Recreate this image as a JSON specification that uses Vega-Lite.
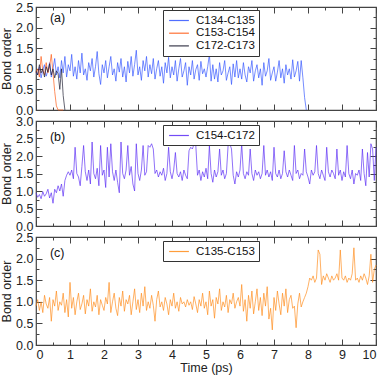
{
  "$schema": "https://vega.github.io/schema/vega-lite/v6.json",
  "padding": {"left": 0, "top": 0, "right": 0, "bottom": 0},
  "spacing": 11,
  "bounds": "flush",
  "config": {
    "view": {"stroke": "#444", "strokeWidth": 1.2},
    "axis": {"domain": false, "grid": false, "tickColor": "#444", "tickWidth": 1, "labelFont": "Liberation Sans", "labelFontSize": 12.5, "labelColor": "#222", "titleFont": "Liberation Sans", "titleFontSize": 12.5, "titleFontWeight": "normal", "titleColor": "#222"},
    "legend": {"orient": "none", "legendX": 127, "title": null, "strokeColor": "#333", "fillColor": "white", "padding": 4, "symbolType": "M-1.8,0H1.8", "symbolSize": 121, "symbolStrokeWidth": 1.2, "symbolOffset": 5.5, "labelFont": "Liberation Sans", "labelFontSize": 11.5, "labelOffset": 10.5, "rowPadding": 0.7, "labelColor": "#111"},
    "text": {"font": "Liberation Sans", "fontSize": 12.5, "color": "#111"}
  },
  "datasets": {
    "d": [
      {"t":0,"a":0.92,"r":0.9,"k":0.95,"b":0.95,"c":0.9},
      {"t":0.05,"a":0.85,"r":1.0,"k":0.85,"b":0.82,"c":1.05},
      {"t":0.1,"a":1.05,"r":0.8,"k":1.1,"b":0.9,"c":0.8},
      {"t":0.15,"a":0.78,"r":1.3,"k":0.9,"b":0.78,"c":1.0},
      {"t":0.2,"a":0.98,"r":0.95,"k":1.0,"b":0.98,"c":0.75},
      {"t":0.25,"a":1.1,"r":0.85,"k":0.8,"b":0.85,"c":1.15},
      {"t":0.3,"a":0.82,"r":1.15,"k":1.05,"b":0.92,"c":0.95},
      {"t":0.35,"a":0.95,"r":0.9,"k":0.92,"b":1.05,"c":0.85},
      {"t":0.4,"a":1.15,"r":1.05,"k":1.12,"b":0.8,"c":1.1},
      {"t":0.45,"a":0.8,"r":1.35,"k":0.85,"b":0.95,"c":0.55},
      {"t":0.5,"a":1.0,"r":0.9,"k":1.0,"b":0.65,"c":1.05},
      {"t":0.55,"a":1.25,"r":0.45,"k":0.78,"b":1.05,"c":0.9},
      {"t":0.6,"a":0.85,"r":0.1,"k":0.95,"b":0.95,"c":1.25},
      {"t":0.65,"a":1.05,"r":0.0,"k":0.88,"b":1.15,"c":0.8},
      {"t":0.7,"a":0.78,"r":0.0,"k":0.5,"b":1.0,"c":1.0},
      {"t":0.75,"a":1.2,"r":0.0,"k":1.0,"b":1.2,"c":0.92},
      {"t":0.8,"a":0.9,"r":0.0,"k":0.35,"b":0.85,"c":1.2},
      {"t":0.85,"a":1.3,"k":0.0,"b":1.3,"c":0.75},
      {"t":0.9,"a":0.8,"b":1.45,"c":1.05},
      {"t":0.95,"a":1.1,"b":1.55,"c":0.65},
      {"t":1.0,"a":0.95,"b":1.45,"c":1.45},
      {"t":1.05,"a":1.35,"b":1.6,"c":0.85},
      {"t":1.1,"a":0.82,"b":1.35,"c":1.1},
      {"t":1.15,"a":1.05,"b":2.25,"c":0.7},
      {"t":1.2,"a":0.75,"b":1.5,"c":1.0},
      {"t":1.25,"a":1.2,"b":1.4,"c":1.2},
      {"t":1.3,"a":0.9,"b":1.15,"c":0.82},
      {"t":1.35,"a":1.38,"b":1.7,"c":0.95},
      {"t":1.4,"a":0.85,"b":2.3,"c":1.15},
      {"t":1.45,"a":1.0,"b":1.55,"c":0.72},
      {"t":1.5,"a":0.72,"b":1.3,"c":1.05},
      {"t":1.55,"a":1.15,"b":1.6,"c":0.9},
      {"t":1.6,"a":0.95,"b":1.2,"c":1.3},
      {"t":1.65,"a":1.25,"b":2.4,"c":0.78},
      {"t":1.7,"a":0.8,"b":1.5,"c":1.0},
      {"t":1.75,"a":1.05,"b":1.35,"c":0.88},
      {"t":1.8,"a":1.42,"b":1.65,"c":1.15},
      {"t":1.85,"a":0.88,"b":1.15,"c":0.7},
      {"t":1.9,"a":0.62,"b":2.3,"c":1.05},
      {"t":1.95,"a":1.1,"b":1.45,"c":0.92},
      {"t":2.0,"a":0.9,"b":1.6,"c":0.8},
      {"t":2.05,"a":1.2,"b":1.1,"c":1.1},
      {"t":2.1,"a":0.78,"b":2.25,"c":0.95},
      {"t":2.15,"a":1.05,"b":1.4,"c":1.45},
      {"t":2.2,"a":1.3,"b":2.35,"c":0.75},
      {"t":2.25,"a":0.85,"b":1.55,"c":1.0},
      {"t":2.3,"a":1.0,"b":1.3,"c":1.2},
      {"t":2.35,"a":0.7,"b":1.6,"c":0.85},
      {"t":2.4,"a":1.15,"b":1.25,"c":0.68},
      {"t":2.45,"a":0.92,"b":0.95,"c":1.1},
      {"t":2.5,"a":1.25,"b":2.4,"c":0.9},
      {"t":2.55,"a":0.8,"b":1.5,"c":1.25},
      {"t":2.6,"a":1.05,"b":1.35,"c":0.78},
      {"t":2.65,"a":0.68,"b":1.6,"c":1.05},
      {"t":2.7,"a":1.18,"b":2.3,"c":0.95},
      {"t":2.75,"a":0.9,"b":1.45,"c":1.15},
      {"t":2.8,"a":1.3,"b":1.7,"c":0.7},
      {"t":2.85,"a":0.82,"b":1.2,"c":1.0},
      {"t":2.9,"a":1.1,"b":1.0,"c":1.3},
      {"t":2.95,"a":1.45,"b":2.35,"c":0.82},
      {"t":3.0,"a":0.85,"b":1.5,"c":1.05},
      {"t":3.05,"a":1.05,"b":1.3,"c":0.75},
      {"t":3.1,"a":0.72,"b":1.6,"c":1.2},
      {"t":3.15,"a":1.2,"b":2.3,"c":0.9},
      {"t":3.2,"a":0.95,"b":1.45,"c":1.35},
      {"t":3.25,"a":1.3,"b":1.55,"c":0.8},
      {"t":3.3,"a":0.8,"b":2.3,"c":1.0},
      {"t":3.35,"a":1.1,"b":2.25,"c":0.85},
      {"t":3.4,"a":0.88,"b":2.35,"c":1.15},
      {"t":3.45,"a":1.25,"b":2.2,"c":0.92},
      {"t":3.5,"a":0.75,"b":1.5,"c":0.55},
      {"t":3.55,"a":1.0,"b":1.6,"c":1.05},
      {"t":3.6,"a":1.2,"b":1.4,"c":1.25},
      {"t":3.65,"a":0.82,"b":1.55,"c":0.88},
      {"t":3.7,"a":1.05,"b":1.45,"c":1.0},
      {"t":3.75,"a":0.65,"b":1.65,"c":0.8},
      {"t":3.8,"a":1.15,"b":1.3,"c":1.1},
      {"t":3.85,"a":0.9,"b":1.5,"c":0.95},
      {"t":3.9,"a":1.28,"b":2.25,"c":0.7},
      {"t":3.95,"a":0.78,"b":1.55,"c":1.05},
      {"t":4.0,"a":1.05,"b":1.35,"c":0.9},
      {"t":4.05,"a":0.85,"b":1.6,"c":1.2},
      {"t":4.1,"a":1.2,"b":2.1,"c":0.85},
      {"t":4.15,"a":0.7,"b":1.5,"c":1.0},
      {"t":4.2,"a":1.0,"b":1.4,"c":0.78},
      {"t":4.25,"a":1.25,"b":1.55,"c":1.1},
      {"t":4.3,"a":0.8,"b":1.3,"c":0.95},
      {"t":4.35,"a":0.95,"b":1.6,"c":1.0},
      {"t":4.4,"a":1.15,"b":1.45,"c":0.88},
      {"t":4.45,"a":0.6,"b":1.35,"c":1.05},
      {"t":4.5,"a":1.05,"b":2.15,"c":0.92},
      {"t":4.55,"a":0.85,"b":2.25,"c":1.0},
      {"t":4.6,"a":1.2,"b":2.2,"c":0.82},
      {"t":4.65,"a":0.75,"b":2.35,"c":1.12},
      {"t":4.7,"a":0.98,"b":2.3,"c":0.95},
      {"t":4.75,"a":1.1,"b":1.45,"c":0.75},
      {"t":4.8,"a":0.72,"b":1.6,"c":1.05},
      {"t":4.85,"a":1.18,"b":1.3,"c":0.9},
      {"t":4.9,"a":0.88,"b":1.55,"c":1.2},
      {"t":4.95,"a":1.0,"b":1.4,"c":0.85},
      {"t":5.0,"a":0.8,"b":1.65,"c":1.0},
      {"t":5.05,"a":1.05,"b":1.35,"c":0.7},
      {"t":5.1,"a":1.35,"b":2.3,"c":1.25},
      {"t":5.15,"a":0.7,"b":1.5,"c":0.9},
      {"t":5.2,"a":1.1,"b":1.25,"c":1.05},
      {"t":5.25,"a":0.75,"b":1.6,"c":0.62},
      {"t":5.3,"a":1.0,"b":1.4,"c":1.1},
      {"t":5.35,"a":0.68,"b":1.55,"c":0.95},
      {"t":5.4,"a":1.15,"b":2.2,"c":1.3},
      {"t":5.45,"a":0.85,"b":1.45,"c":0.8},
      {"t":5.5,"a":0.95,"b":1.6,"c":1.0},
      {"t":5.55,"a":1.2,"b":1.35,"c":0.88},
      {"t":5.6,"a":0.72,"b":1.5,"c":1.15},
      {"t":5.65,"a":0.9,"b":2.3,"c":0.75},
      {"t":5.7,"a":1.05,"b":2.35,"c":1.05},
      {"t":5.75,"a":0.62,"b":2.2,"c":0.95},
      {"t":5.8,"a":1.12,"b":1.45,"c":1.2},
      {"t":5.85,"a":0.8,"b":1.2,"c":0.85},
      {"t":5.9,"a":1.2,"b":1.55,"c":1.0},
      {"t":5.95,"a":0.78,"b":1.4,"c":1.1},
      {"t":6.0,"a":1.0,"b":1.6,"c":0.9},
      {"t":6.05,"a":0.75,"b":2.35,"c":1.4},
      {"t":6.1,"a":1.15,"b":1.5,"c":0.78},
      {"t":6.15,"a":0.85,"b":1.35,"c":1.05},
      {"t":6.2,"a":0.68,"b":1.55,"c":0.55},
      {"t":6.25,"a":1.05,"b":1.45,"c":1.15},
      {"t":6.3,"a":0.9,"b":2.2,"c":0.85},
      {"t":6.35,"a":1.2,"b":1.5,"c":1.25},
      {"t":6.4,"a":0.7,"b":1.3,"c":0.72},
      {"t":6.45,"a":0.95,"b":1.6,"c":1.0},
      {"t":6.5,"a":1.1,"b":1.45,"c":1.3},
      {"t":6.55,"a":0.78,"b":1.55,"c":0.8},
      {"t":6.6,"a":1.0,"b":1.35,"c":1.1},
      {"t":6.65,"a":0.6,"b":1.5,"c":0.68},
      {"t":6.7,"a":1.15,"b":2.3,"c":1.2},
      {"t":6.75,"a":0.82,"b":1.45,"c":0.9},
      {"t":6.8,"a":0.95,"b":1.6,"c":1.35},
      {"t":6.85,"a":1.25,"b":1.4,"c":0.6},
      {"t":6.9,"a":0.72,"b":1.55,"c":0.85},
      {"t":6.95,"a":0.9,"b":1.3,"c":0.35},
      {"t":7.0,"a":1.05,"b":2.25,"c":1.1},
      {"t":7.05,"a":0.7,"b":1.5,"c":0.8},
      {"t":7.1,"a":0.92,"b":1.4,"c":1.25},
      {"t":7.15,"a":1.2,"b":1.6,"c":0.95},
      {"t":7.2,"a":0.78,"b":1.35,"c":0.7},
      {"t":7.25,"a":1.0,"b":1.5,"c":1.2},
      {"t":7.3,"a":0.65,"b":2.15,"c":0.9},
      {"t":7.35,"a":1.1,"b":1.55,"c":1.3},
      {"t":7.4,"a":0.85,"b":1.4,"c":0.75},
      {"t":7.45,"a":1.0,"b":1.6,"c":1.05},
      {"t":7.5,"a":0.75,"b":1.45,"c":1.15},
      {"t":7.55,"a":1.22,"b":1.3,"c":0.85},
      {"t":7.6,"a":0.8,"b":2.3,"c":0.9},
      {"t":7.65,"a":0.95,"b":1.5,"c":0.4},
      {"t":7.7,"a":1.18,"b":1.6,"c":0.95},
      {"t":7.75,"a":0.7,"b":1.35,"c":1.2},
      {"t":7.8,"a":1.2,"b":1.5,"c":0.88},
      {"t":7.85,"a":0.78,"b":1.45,"c":1.0},
      {"t":7.9,"a":0.3,"b":2.2,"c":1.1},
      {"t":7.95,"a":0.0,"b":1.55,"c":1.2},
      {"t":8.0,"b":1.4,"c":1.35},
      {"t":8.05,"b":1.2,"c":1.55},
      {"t":8.1,"b":1.6,"c":1.5},
      {"t":8.15,"b":1.45,"c":1.6},
      {"t":8.2,"b":1.55,"c":1.45},
      {"t":8.25,"b":2.3,"c":1.55},
      {"t":8.3,"b":1.5,"c":2.2},
      {"t":8.35,"b":1.35,"c":2.1},
      {"t":8.4,"b":1.6,"c":1.4},
      {"t":8.45,"b":1.45,"c":1.6},
      {"t":8.5,"b":1.3,"c":1.5},
      {"t":8.55,"b":2.25,"c":1.65},
      {"t":8.6,"b":1.55,"c":1.55},
      {"t":8.65,"b":1.4,"c":1.45},
      {"t":8.7,"b":1.6,"c":1.6},
      {"t":8.75,"b":1.5,"c":1.5},
      {"t":8.8,"b":1.35,"c":1.55},
      {"t":8.85,"b":2.2,"c":1.65},
      {"t":8.9,"b":1.45,"c":1.5},
      {"t":8.95,"b":1.6,"c":2.2},
      {"t":9.0,"b":1.3,"c":1.55},
      {"t":9.05,"b":1.55,"c":1.5},
      {"t":9.1,"b":1.4,"c":1.6},
      {"t":9.15,"b":2.3,"c":1.45},
      {"t":9.2,"b":1.5,"c":1.55},
      {"t":9.25,"b":1.35,"c":1.5},
      {"t":9.3,"b":1.6,"c":1.65},
      {"t":9.35,"b":1.2,"c":2.25},
      {"t":9.4,"b":1.5,"c":1.5},
      {"t":9.45,"b":1.45,"c":1.55},
      {"t":9.5,"b":1.6,"c":1.45},
      {"t":9.55,"b":1.3,"c":1.6},
      {"t":9.6,"b":2.2,"c":1.5},
      {"t":9.65,"b":1.5,"c":1.65},
      {"t":9.7,"b":1.15,"c":1.55},
      {"t":9.75,"b":2.1,"c":1.4},
      {"t":9.8,"b":1.4,"c":1.6},
      {"t":9.85,"b":2.35,"c":2.1},
      {"t":9.9,"b":2.2,"c":1.45},
      {"t":9.95,"b":1.3,"c":1.75},
      {"t":10.0,"b":2.25,"c":1.85}
    ]
  },
  "resolve": {"scale": {"color": "independent"}, "legend": {"color": "independent"}},
  "vconcat": [
    {
      "width": 340, "height": 103,
      "layer": [
        {
          "data": {"name": "d"},
          "transform": [{"fold": ["a", "r", "k"], "as": ["s", "v"]}, {"filter": "isValid(datum.v)"}],
          "mark": {"type": "line", "strokeWidth": 0.8, "opacity": 0.85},
          "encoding": {
            "x": {"field": "t", "type": "quantitative", "scale": {"domain": [0, 10], "nice": false}, "axis": {"orient": "bottom", "values": [0,0.5,1,1.5,2,2.5,3,3.5,4,4.5,5,5.5,6,6.5,7,7.5,8,8.5,9,9.5,10], "tickSize": {"condition": {"test": "datum.value % 1 === 0", "value": -6}, "value": -3}, "labels": false, "title": null}},
            "y": {"field": "v", "type": "quantitative", "scale": {"domain": [0, 2.5], "nice": false}, "axis": {"orient": "left", "values": [0,0.25,0.5,0.75,1,1.25,1.5,1.75,2,2.25,2.5], "tickSize": {"condition": {"test": "(datum.value*2) % 1 === 0", "value": -6}, "value": -3}, "labelExpr": "(datum.value*2) % 1 === 0 ? datum.label : ''", "format": ".1f", "labelPadding": 9, "title": "Bond order", "titlePadding": 2}},
            "color": {"field": "s", "type": "nominal", "sort": null, "scale": {"domain": ["a", "r", "k"], "range": ["#3355ff", "#ff5a14", "#1a1a2e"]}, "legend": {"legendY": 3, "labelExpr": "datum.label == 'a' ? 'C134-C135' : datum.label == 'r' ? 'C153-C154' : 'C172-C173'"}}
          }
        },
        {
          "data": {"name": "d"},
          "mark": {"type": "line", "opacity": 0},
          "encoding": {
            "x": {"field": "t", "type": "quantitative", "scale": {"domain": [0, 10], "nice": false}, "axis": {"orient": "top", "values": [0,0.5,1,1.5,2,2.5,3,3.5,4,4.5,5,5.5,6,6.5,7,7.5,8,8.5,9,9.5,10], "tickSize": {"condition": {"test": "datum.value % 1 === 0", "value": -6}, "value": -3}, "labels": false, "title": null}},
            "y": {"field": "a", "type": "quantitative", "scale": {"domain": [0, 2.5], "nice": false}, "axis": {"orient": "right", "values": [0,0.25,0.5,0.75,1,1.25,1.5,1.75,2,2.25,2.5], "tickSize": {"condition": {"test": "(datum.value*2) % 1 === 0", "value": -6}, "value": -3}, "labels": false, "title": null}}
          }
        },
        {
          "data": {"values": [{}]},
          "mark": {"type": "text", "align": "left", "baseline": "middle"},
          "encoding": {
            "x": {"datum": 0.41, "type": "quantitative", "scale": {"domain": [0, 10], "nice": false}, "axis": null},
            "y": {"datum": 2.24, "type": "quantitative", "scale": {"domain": [0, 2.5], "nice": false}, "axis": null},
            "text": {"value": "(a)"}
          }
        }
      ],
      "resolve": {"axis": {"x": "independent", "y": "independent"}}
    },
    {
      "width": 340, "height": 105,
      "data": {"name": "d"},
      "layer": [
        {
          "mark": {"type": "line", "strokeWidth": 0.8, "opacity": 0.85},
          "encoding": {
            "x": {"field": "t", "type": "quantitative", "scale": {"domain": [0, 10], "nice": false}, "axis": {"orient": "bottom", "values": [0,0.5,1,1.5,2,2.5,3,3.5,4,4.5,5,5.5,6,6.5,7,7.5,8,8.5,9,9.5,10], "tickSize": {"condition": {"test": "datum.value % 1 === 0", "value": -6}, "value": -3}, "labels": false, "title": null}},
            "y": {"field": "b", "type": "quantitative", "scale": {"domain": [0, 3], "nice": false}, "axis": {"orient": "left", "values": [0,0.25,0.5,0.75,1,1.25,1.5,1.75,2,2.25,2.5,2.75,3], "tickSize": {"condition": {"test": "(datum.value*2) % 1 === 0", "value": -6}, "value": -3}, "labelExpr": "(datum.value*2) % 1 === 0 ? datum.label : ''", "format": ".1f", "labelPadding": 9, "title": "Bond order", "titlePadding": 2}},
            "color": {"datum": "C154-C172", "type": "nominal", "scale": {"range": ["#5b2cf5"]}, "legend": {"legendY": 4}}
          }
        },
        {
          "mark": {"type": "line", "opacity": 0},
          "encoding": {
            "x": {"field": "t", "type": "quantitative", "scale": {"domain": [0, 10], "nice": false}, "axis": {"orient": "top", "values": [0,0.5,1,1.5,2,2.5,3,3.5,4,4.5,5,5.5,6,6.5,7,7.5,8,8.5,9,9.5,10], "tickSize": {"condition": {"test": "datum.value % 1 === 0", "value": -6}, "value": -3}, "labels": false, "title": null}},
            "y": {"field": "b", "type": "quantitative", "scale": {"domain": [0, 3], "nice": false}, "axis": {"orient": "right", "values": [0,0.25,0.5,0.75,1,1.25,1.5,1.75,2,2.25,2.5,2.75,3], "tickSize": {"condition": {"test": "(datum.value*2) % 1 === 0", "value": -6}, "value": -3}, "labels": false, "title": null}}
          }
        },
        {
          "data": {"values": [{}]},
          "mark": {"type": "text", "align": "left", "baseline": "middle"},
          "encoding": {
            "x": {"datum": 0.41, "type": "quantitative", "scale": {"domain": [0, 10], "nice": false}, "axis": null},
            "y": {"datum": 2.53, "type": "quantitative", "scale": {"domain": [0, 3], "nice": false}, "axis": null},
            "text": {"value": "(b)"}
          }
        }
      ],
      "resolve": {"axis": {"x": "independent", "y": "independent"}}
    },
    {
      "width": 340, "height": 108,
      "data": {"name": "d"},
      "layer": [
        {
          "mark": {"type": "line", "strokeWidth": 0.8, "opacity": 0.85},
          "encoding": {
            "x": {"field": "t", "type": "quantitative", "scale": {"domain": [0, 10], "nice": false}, "axis": {"orient": "bottom", "values": [0,0.5,1,1.5,2,2.5,3,3.5,4,4.5,5,5.5,6,6.5,7,7.5,8,8.5,9,9.5,10], "tickSize": {"condition": {"test": "datum.value % 1 === 0", "value": -6}, "value": -3}, "format": ".0f", "labelExpr": "datum.value % 1 === 0 ? datum.label : ''", "labelPadding": 9, "title": "Time (ps)", "titlePadding": 1}},
            "y": {"field": "c", "type": "quantitative", "scale": {"domain": [0, 2.5], "nice": false}, "axis": {"orient": "left", "values": [0,0.25,0.5,0.75,1,1.25,1.5,1.75,2,2.25,2.5], "tickSize": {"condition": {"test": "(datum.value*2) % 1 === 0", "value": -6}, "value": -3}, "labelExpr": "(datum.value*2) % 1 === 0 ? datum.label : ''", "format": ".1f", "labelPadding": 9, "title": "Bond order", "titlePadding": 2}},
            "color": {"datum": "C135-C153", "type": "nominal", "scale": {"range": ["#ff8c1a"]}, "legend": {"legendY": 4}}
          }
        },
        {
          "mark": {"type": "line", "opacity": 0},
          "encoding": {
            "x": {"field": "t", "type": "quantitative", "scale": {"domain": [0, 10], "nice": false}, "axis": {"orient": "top", "values": [0,0.5,1,1.5,2,2.5,3,3.5,4,4.5,5,5.5,6,6.5,7,7.5,8,8.5,9,9.5,10], "tickSize": {"condition": {"test": "datum.value % 1 === 0", "value": -6}, "value": -3}, "labels": false, "title": null}},
            "y": {"field": "c", "type": "quantitative", "scale": {"domain": [0, 2.5], "nice": false}, "axis": {"orient": "right", "values": [0,0.25,0.5,0.75,1,1.25,1.5,1.75,2,2.25,2.5], "tickSize": {"condition": {"test": "(datum.value*2) % 1 === 0", "value": -6}, "value": -3}, "labels": false, "title": null}}
          }
        },
        {
          "data": {"values": [{}]},
          "mark": {"type": "text", "align": "left", "baseline": "middle"},
          "encoding": {
            "x": {"datum": 0.41, "type": "quantitative", "scale": {"domain": [0, 10], "nice": false}, "axis": null},
            "y": {"datum": 2.13, "type": "quantitative", "scale": {"domain": [0, 2.5], "nice": false}, "axis": null},
            "text": {"value": "(c)"}
          }
        }
      ],
      "resolve": {"axis": {"x": "independent", "y": "independent"}}
    }
  ]
}
